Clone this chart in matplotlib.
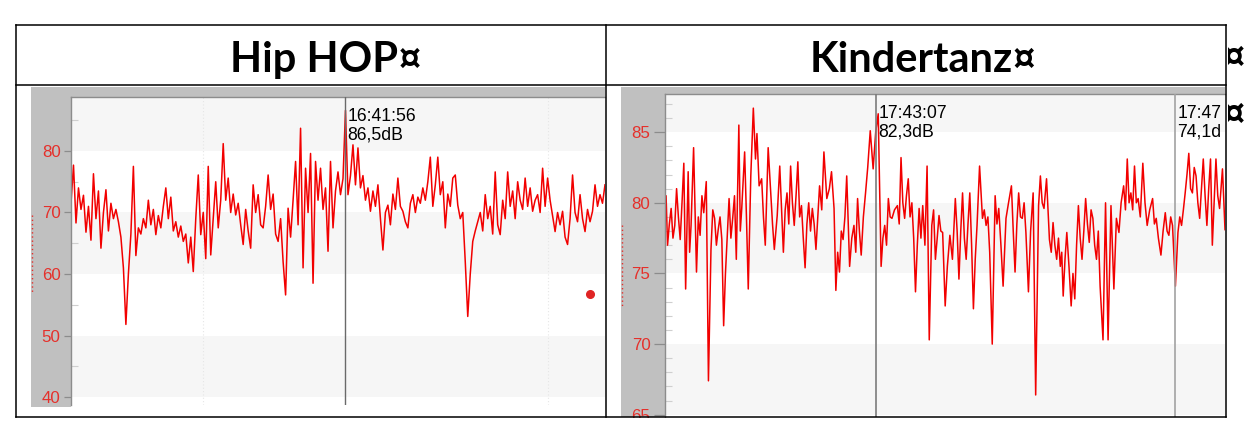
import matplotlib
matplotlib.use("Agg")
import matplotlib.pyplot as plt
from matplotlib.patches import Rectangle
from matplotlib.lines import Line2D
from matplotlib.transforms import Bbox, TransformedBbox
import numpy as np

plt.rcParams['font.family'] = ['Liberation Sans', 'DejaVu Sans']

# ---------------- data ----------------
titles = ["Hip HOP¤", "Kindertanz¤"]

hiphop_db = [
    71.5, 77.7, 68.3, 74.0, 70.5, 72.8, 66.8, 71.0, 65.5, 76.3, 69.0, 73.5, 64.2, 70.0,
    73.7, 67.0, 71.5, 69.0, 70.5, 68.5, 66.0, 61.0, 51.8, 60.0, 66.5, 77.5, 63.0, 67.5,
    66.5, 69.0, 67.5, 72.0, 68.0, 70.5, 66.4, 69.5, 67.5, 71.0, 74.0, 69.0, 72.5, 67.0,
    68.5, 66.0, 67.8, 65.3, 66.5, 61.8, 66.0, 60.4, 69.0, 76.1, 66.4, 70.0, 62.5, 77.5, 63.1,
    69.0, 75.0, 67.5, 72.0, 81.2, 72.0, 75.6, 70.0, 73.0, 69.6, 71.5, 68.0, 64.8, 70.5,
    67.0, 64.2, 74.5, 70.0, 72.9, 68.0, 67.5, 71.0, 76.1, 70.5, 73.0, 66.5, 65.3, 69.0,
    62.0, 56.6, 70.7, 66.0, 72.0, 78.3, 68.0, 83.7, 61.0, 77.2, 70.0, 79.6, 58.5, 78.3,
    72.0, 77.2, 70.5, 74.0, 63.7, 78.3, 67.5, 73.5, 76.6, 72.9, 75.5, 86.6, 72.9, 76.0,
    81.0, 74.5, 80.5, 74.0, 76.0, 72.0, 74.0, 70.2, 73.5, 71.0, 74.5, 69.0, 63.9, 70.0,
    71.2, 68.0, 73.0, 70.5, 75.6, 71.0, 70.2, 68.5, 67.5, 71.5, 72.9, 70.0, 72.5, 71.5,
    74.0, 72.0, 75.0, 79.0, 71.0, 74.5, 79.0, 72.9, 75.0, 67.5, 73.0, 71.0, 75.6, 76.1,
    71.2, 69.0, 70.0, 62.0, 53.1, 60.0, 65.3, 67.0, 68.5, 70.0, 67.0, 72.9, 69.0, 71.0,
    66.5, 76.6, 68.0, 66.4, 72.0, 69.0, 76.6, 71.0, 73.5, 69.0, 75.0, 72.0, 70.5, 75.6,
    71.0, 74.0, 70.2, 72.0, 72.9, 70.0, 77.2, 71.0, 75.6, 72.0, 69.5, 66.9, 70.0, 68.0,
    70.2, 66.0, 64.8, 69.0, 76.1, 70.0, 68.5, 72.9, 69.0, 66.9, 70.5, 68.5, 70.2, 74.5,
    71.0, 72.9, 71.5, 74.5,
]
hiphop_cursor_label = "16:41:56\n86,5dB"
hiphop_grid_idx = [53, 191]
hiphop_dot = (208, 56.7)
hiphop_yticks = [40, 50, 60, 70, 80]
hiphop_ylim = (38.7, 88.78)

kinder_t = [
    8, 11, 15, 20, 25, 30, 35, 40, 45, 50,
    55, 60, 65, 72, 76, 80, 87, 95, 100, 105,
    110, 115, 122, 128, 135, 140, 145, 150, 155, 160,
    165, 170, 175, 180, 185, 190, 195, 200, 205, 212,
    216, 220, 228, 233, 238, 245, 252, 258, 262, 268,
    275, 280, 285, 293, 300, 305, 310, 318, 325, 330,
    335, 340, 345, 350, 355, 360, 365, 370, 375, 380,
    385, 390, 395, 400, 405, 410, 415, 420, 425, 430,
    435, 441, 447, 455, 462, 468, 475, 480, 485, 490,
    495, 500, 505, 510, 518, 524, 530, 535, 540, 545,
    550, 556, 562, 568, 575, 583, 590, 597, 605, 610,
    615, 620, 625, 630, 635, 642, 650, 655, 660, 665,
    670, 675, 680, 685, 690, 695, 700, 705, 710, 715,
    720, 726, 732, 738, 745, 750, 755, 760, 765, 770,
    775, 782, 788, 795, 802, 810, 815, 820, 825, 830,
    835, 840, 845, 850, 855, 860, 865, 870, 877, 885,
    890, 895, 900, 905, 912, 920, 925, 930, 936, 942,
    950, 957, 965, 970, 975, 980, 985, 990, 995, 1000,
    1005, 1012, 1018, 1025, 1032, 1040, 1045, 1050, 1055, 1062,
    1066, 1070, 1075, 1080, 1085, 1090, 1095, 1100, 1104, 1108,
    1113, 1118, 1124, 1130, 1135, 1140, 1145, 1150, 1155, 1160,
    1165, 1170, 1175, 1180, 1185, 1190, 1195, 1200, 1205, 1210,
    1218, 1225, 1232, 1240, 1248, 1255, 1262, 1268, 1275, 1280,
    1285, 1290, 1295, 1300, 1305, 1310, 1315, 1321, 1328, 1334,
    1340, 1347, 1355, 1360, 1365, 1371, 1378, 1384, 1390, 1395,
    1400, 1405, 1410, 1418, 1425, 1430, 1435, 1440, 1445, 1450,
    1455, 1460, 1465, 1470, 1475, 1480, 1485, 1490, 1495, 1500,
    1505, 1510, 1515, 1520, 1525, 1530, 1535, 1540, 1544, 1548,
    1552, 1555,
]
kinder_db = [
    78.1, 80.5, 77.0, 78.5, 79.6, 77.5, 78.4, 81.0, 79.0, 77.4,
    80.0, 82.8, 73.9, 82.2, 76.5, 78.4, 83.9, 75.1, 79.0, 77.7,
    80.5, 79.3, 81.5, 67.4, 76.7, 79.5, 78.9, 77.0, 78.1, 79.0,
    77.4, 71.3, 75.0, 77.7, 80.3, 77.5, 78.9, 80.5, 76.0, 85.5,
    78.0, 79.6, 83.6, 79.0, 73.9, 81.9, 86.7, 83.1, 84.9, 81.2,
    81.7, 79.0, 77.0, 83.9, 80.7, 78.5, 76.7, 79.1, 82.6, 79.5,
    76.5, 79.5, 80.7, 78.5, 82.6, 80.0, 78.4, 80.5, 82.9, 79.0,
    79.8, 77.5, 75.4, 78.5, 80.0, 78.0, 79.6, 78.5, 76.7, 79.0,
    81.2, 79.5, 83.6, 80.3, 81.0, 82.2, 79.6, 73.8, 76.5, 75.1,
    78.0, 77.4, 79.0, 81.9, 75.5, 77.5, 78.4, 76.5, 80.3, 78.0,
    76.3, 79.0, 80.7, 82.5, 85.1, 82.4, 85.0, 86.3, 75.5, 77.5,
    78.4, 77.0, 80.3, 79.0, 78.9, 79.5, 79.8, 78.5, 83.2, 80.0,
    78.9, 80.5, 81.7, 79.0, 80.0, 77.5, 73.7, 77.0, 79.6, 77.5,
    79.8, 77.0, 82.6, 70.3, 78.4, 79.5, 76.0, 77.5, 79.1, 78.0,
    77.9, 72.7, 75.5, 77.7, 76.0, 80.3, 78.0, 74.6, 78.0, 80.7,
    77.5, 76.0, 78.5, 80.7, 77.0, 72.5, 76.0, 78.4, 82.6, 78.9,
    79.5, 78.4, 79.0, 76.5, 70.0, 80.5, 78.5, 79.6, 77.0, 74.1,
    78.9, 80.0, 81.2, 78.0, 75.1, 78.5, 80.7, 79.0, 78.9, 80.0,
    77.9, 73.7, 78.0, 80.7, 66.4, 79.8, 81.9, 80.0, 79.6, 81.7,
    79.5, 77.4, 76.5, 78.6, 77.0, 76.0, 77.5, 75.5, 76.5, 73.4,
    76.0, 77.9, 75.5, 72.7, 75.0, 73.2, 77.0, 79.8, 77.5, 76.0,
    78.0, 80.3, 78.5, 77.2, 79.5, 78.9, 77.0, 76.0, 78.0, 74.1,
    70.3, 80.0, 70.3, 79.8, 73.9, 78.9, 77.9, 80.0, 81.2, 79.5,
    83.1, 80.0, 80.7, 79.5, 82.6, 80.0, 80.3, 79.0, 82.8, 80.0,
    78.4, 79.5, 80.3, 78.5, 78.9, 77.5, 76.3, 78.0, 79.3, 78.0,
    77.7, 79.0, 78.4, 74.1, 77.9, 79.0, 78.4, 79.5, 80.7, 82.0,
    83.5, 81.0, 80.7, 82.5, 81.9, 80.0, 78.9, 81.0, 83.1, 80.5,
    78.4, 81.0, 83.1, 77.0, 80.0, 83.1, 80.5, 79.6, 81.0, 82.4,
    80.0, 78.1,
]
kinder_cursor_t = [592, 1418]
kinder_cursor_labels = ["17:43:07\n82,3dB", "17:47\n74,1d"]
kinder_yticks = [65, 70, 75, 80, 85]
kinder_ylim = (64.84, 87.7)
kinder_xlim = (8, 1555)

# ---------------- figure ----------------
W, H = 1258, 426
fig = plt.figure(figsize=(W / 100, H / 100), dpi=100)
fig.patch.set_facecolor('white')


def fx(x):
    return x / W


def fy(y):
    return 1 - y / H


def rect(x0, y0, x1, y1, z=-1, **kw):
    r = Rectangle((fx(x0), fy(y1)), fx(x1) - fx(x0), fy(y0) - fy(y1),
                  transform=fig.transFigure, zorder=z, **kw)
    fig.add_artist(r)
    return r


def line(x0, y0, x1, y1, z=6, **kw):
    l = Line2D([fx(x0), fx(x1)], [fy(y0), fy(y1)], transform=fig.transFigure, zorder=z, **kw)
    fig.add_artist(l)
    return l


GRAY = '#c0c0c0'
BAND = '#f6f6f6'
RED = '#f20000'
LABEL_RED = '#e5302b'

# chart screenshot frames
rect(31, 87, 71, 407, color=GRAY, lw=0)
rect(31, 87, 605, 97, color=GRAY, lw=0)
rect(621, 87, 665, 417, color=GRAY, lw=0)
rect(621, 87, 1225, 94, color=GRAY, lw=0)

# clipped rotated axis-title remnants
line(32, 215, 32, 292, z=1, color=LABEL_RED, lw=1, ls=(0, (1, 2)))
line(622, 225, 622, 307, z=1, color=LABEL_RED, lw=1, ls=(0, (1, 2)))


def style_axes(ax, yticks, minor, maj_len, ylim):
    ax.set_ylim(*ylim)
    for s in ['bottom', 'right']:
        ax.spines[s].set_visible(False)
    for s in ['left', 'top']:
        ax.spines[s].set_color('#8c8c8c')
        ax.spines[s].set_linewidth(1.0)
    ax.set_xticks([])
    ax.set_yticks(yticks)
    ax.set_yticks(minor, minor=True)
    ax.tick_params(axis='y', which='major', direction='out', length=maj_len, width=0.9,
                   color='#8c8c8c', labelcolor=LABEL_RED, labelsize=12.2, pad=2.5)
    ax.tick_params(axis='y', which='minor', direction='in', length=5, width=0.8,
                   color='#cfcfcf')


# ---- Hip HOP panel ----
ax1 = fig.add_axes([fx(71), fy(405), fx(605) - fx(71), fy(97) - fy(405)])
ax1.set_facecolor('white')
x1 = np.arange(len(hiphop_db))
ax1.set_xlim(0, len(hiphop_db) - 1)
for lo in [40, 60, 80]:
    ax1.axhspan(lo, lo + 10, color=BAND, lw=0, zorder=0)
for g in hiphop_grid_idx:
    ax1.axvline(g, color='#e6e6e6', lw=0.8, ls=(0, (1, 2)), zorder=0.5)
style_axes(ax1, hiphop_yticks, [45, 55, 65, 75, 85], 5, hiphop_ylim)
ax1.plot(x1, hiphop_db, color=RED, lw=1.1, zorder=2)
cur1 = int(np.argmax(hiphop_db))
ax1.axvline(cur1, color='#6a6a6a', lw=1.0, zorder=3)
ax1.annotate(hiphop_cursor_label, xy=(cur1, 1), xycoords=('data', 'axes fraction'),
             xytext=(2, -11), textcoords='offset pixels', ha='left', va='top',
             fontsize=12.7, color='black', linespacing=1.15, zorder=4)
ax1.plot([hiphop_dot[0]], [hiphop_dot[1]], 'o', color='#e02424', ms=5.5, zorder=3)

# ---- Kindertanz panel ----
ax2 = fig.add_axes([fx(665), fy(417), fx(1225) - fx(665), fy(94) - fy(417)])
ax2.set_facecolor('white')
ax2.set_xlim(*kinder_xlim)
for lo in [65, 75, 85]:
    ax2.axhspan(lo, lo + 5, color=BAND, lw=0, zorder=0)
minor2 = [v for v in range(65, 88) if v % 5 != 0]
style_axes(ax2, kinder_yticks, minor2, 8, kinder_ylim)
ax2.plot(kinder_t, kinder_db, color=RED, lw=1.1, zorder=2)
for t, lab, c in zip(kinder_cursor_t, kinder_cursor_labels, ['#7c7c7c', '#a2a2a2']):
    ax2.axvline(t, color=c, lw=1.2, zorder=3)
    ax2.annotate(lab, xy=(t, 1), xycoords=('data', 'axes fraction'),
                 xytext=(2, -11), textcoords='offset pixels', ha='left', va='top',
                 fontsize=12.7, color='black', linespacing=1.15, zorder=4,
                 annotation_clip=False, clip_on=True)

# cover anything below the table
rect(0, 417.5, W, H, z=5, color='white', lw=0)

# ---- table ----
TL = dict(color='black', lw=1.1, solid_capstyle='projecting')
line(16, 25, 1226, 25, **TL)
line(16, 417, 1226, 417, **TL)
line(16, 25, 16, 417, **TL)
line(1226, 25, 1226, 417, **TL)
line(606, 25, 606, 417, **TL)
line(16, 85, 1226, 85, **TL)

hdr = dict(fontfamily=['Lato', 'DejaVu Sans'], fontweight='bold', fontsize=30,
           va='baseline', ha='left', color='black', zorder=7)
fig.text(fx(230), fy(72), titles[0], **hdr)
fig.text(fx(810), fy(72), titles[1], **hdr)

# end-of-row markers outside the table (partially visible)
clipbox = TransformedBbox(Bbox([[fx(1228), 0], [fx(1246), 1]]), fig.transFigure)
for yy in [70, 127]:
    t = fig.text(fx(1222), fy(yy), "¤", fontfamily=['Lato', 'DejaVu Sans'], fontweight='bold',
                 fontsize=30, va='baseline', ha='left', color='black', zorder=7)
    t.set_clip_box(clipbox)
    t.set_clip_on(True)

fig.savefig("out.png", dpi=100, facecolor='white')
